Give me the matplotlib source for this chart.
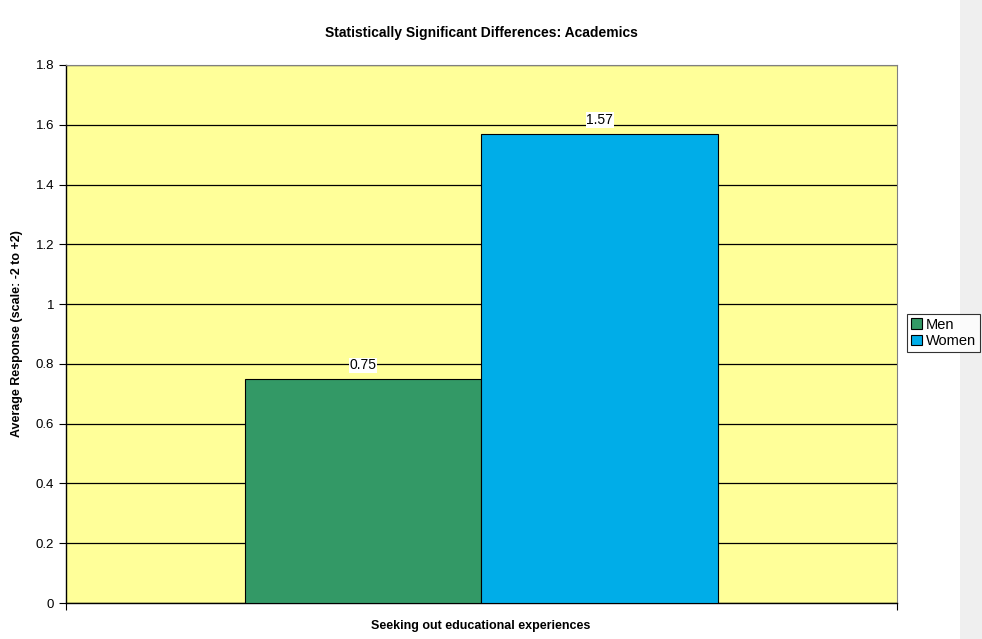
import numpy as np
import matplotlib
matplotlib.use("Agg")
import matplotlib.pyplot as plt
from matplotlib.patches import Rectangle

plt.rcParams["font.family"] = ["Liberation Sans", "DejaVu Sans"]

category = "Seeking out educational experiences"
groups = ["Men", "Women"]
values = [0.75, 1.57]
colors = ["#339966", "#00ADE8"]
yticks = [0, 0.2, 0.4, 0.6, 0.8, 1, 1.2, 1.4, 1.6, 1.8]
ytick_labels = ["0", "0.2", "0.4", "0.6", "0.8", "1", "1.2", "1.4", "1.6", "1.8"]

fig = plt.figure(figsize=(9.82, 6.39), dpi=100)
fig.patch.set_facecolor("white")
# grey strip at the right edge
fig.add_artist(Rectangle((960 / 982, 0), 22 / 982, 1, transform=fig.transFigure,
                         facecolor="#EFEFEF", edgecolor="none", zorder=0))

ax = fig.add_axes([66 / 982, 1 - 603 / 639, 831 / 982, 538 / 639])
ax.set_facecolor("#FFFF99")

bar_w = 0.285
offsets = [-bar_w / 2, bar_w / 2]
for g, v, c, off in zip(groups, values, colors, offsets):
    ax.bar(off, v, width=bar_w, color=c, edgecolor="black", linewidth=0.8,
           label=g, zorder=3)
    ax.text(off, v + 0.022, f"{v:.2f}", ha="center", va="bottom", fontsize=10,
            zorder=4, bbox=dict(facecolor="white", edgecolor="none", pad=0.5))

ax.set_xlim(-0.5, 0.5)
ax.set_ylim(0, 1.8)
ax.set_yticks(yticks)
ax.set_yticklabels(ytick_labels, fontsize=9.5)
ax.set_xticks([-0.5, 0.5])
ax.set_xticklabels(["", ""])
ax.tick_params(axis="both", direction="out", length=5, width=0.8, color="black")
ax.yaxis.grid(True, color="black", linewidth=0.9, zorder=1)
ax.set_axisbelow(True)

for s in ["top", "right"]:
    ax.spines[s].set_color("#808080")
for s in ["left", "bottom"]:
    ax.spines[s].set_color("black")
    ax.spines[s].set_linewidth(1.0)

fig.text(481 / 982, 1 - 626 / 639, category, ha="center", va="center",
         fontsize=9, fontweight="bold")
fig.text(17 / 982, 1 - 334 / 639, "Average Response (scale: -2 to +2)",
         ha="center", va="center", rotation=90, fontsize=9, fontweight="bold")
fig.text(481 / 982, 1 - 33 / 639, "Statistically Significant Differences: Academics",
         ha="center", va="center", fontsize=10, fontweight="bold")

leg = ax.legend(loc="center left", bbox_to_anchor=(907 / 982, 1 - 333 / 639),
                bbox_transform=fig.transFigure, fontsize=10.5, frameon=True,
                fancybox=False, edgecolor="black", handlelength=0.75,
                handleheight=0.75, handletextpad=0.3, borderpad=0.25,
                labelspacing=0.15, borderaxespad=0)
leg.get_frame().set_linewidth(0.8)

fig.savefig("out.png", dpi=100)
